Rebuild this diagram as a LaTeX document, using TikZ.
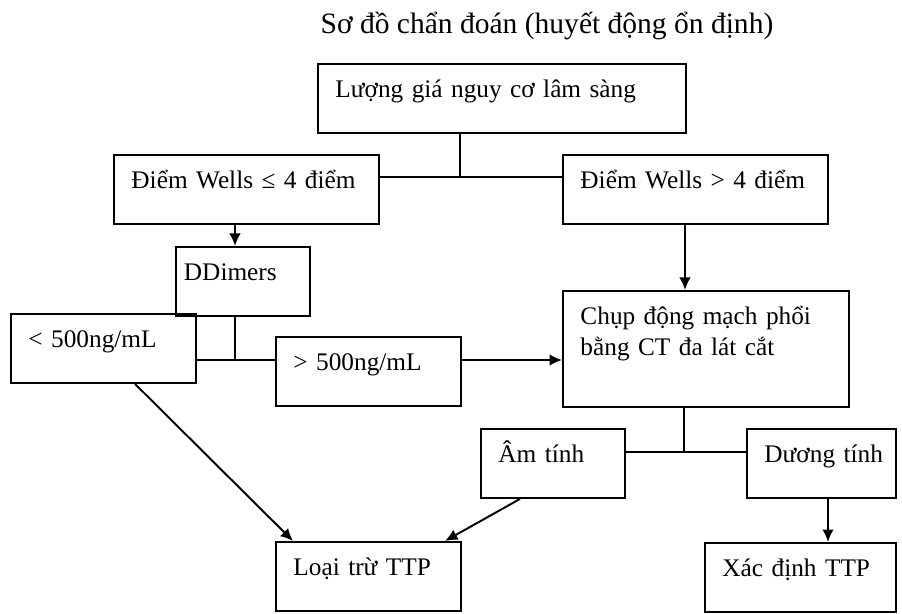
\documentclass[tikz,border=0pt]{standalone}
\usepackage{fontspec}
\setmainfont{Liberation Serif}
\usetikzlibrary{arrows.meta}
\tikzset{
  box/.style={draw, line width=1.1pt, anchor=north west, align=left,
    inner xsep=.35cm, inner ysep=0pt, text height=.68cm, text depth=.7cm,
    font=\fontsize{14.4}{17.6}\selectfont},
  link/.style={line width=1.1pt},
  tip/.style={-{Latex[length=2.5mm,width=2.3mm]}},
}
\begin{document}
\begin{tikzpicture}
  \useasboundingbox (0,0) rectangle (18.04,12.26);
  \node[anchor=base, font=\fontsize{16.8}{20}\selectfont] (title) at (10.94,11.58) {Sơ đồ chẩn đoán (huyết động ổn định)};
  % boxes, placed by their top left corner
  \node[box, text width=6.66cm] (risk) at (6.34,11.00) {Lượng~giá~nguy~cơ~lâm~sàng};
  \node[box, text width=4.60cm] (low) at (2.26,9.18) {Điểm~Wells~≤~4~điểm};
  \node[box, text width=4.60cm] (high) at (11.24,9.18) {Điểm~Wells~>~4~điểm};
  \node[box, inner xsep=.16cm, text width=2.36cm] (dimer) at (3.50,7.34) {DDimers};
  \node[box, text width=3.00cm] (neg500) at (0.20,6.00) {<~500ng/mL};
  \node[box, text width=3.00cm] (pos500) at (5.50,5.54) {>~500ng/mL};
  \node[box, text width=5.02cm, text depth=1.64cm] (ctpa) at (11.24,6.46) {Chụp~động~mạch~phổi\\bằng~CT~đa~lát~cắt};
  \node[box, text width=2.18cm] (negct) at (9.60,3.70) {Âm~tính};
  \node[box, text width=2.28cm] (posct) at (14.92,3.70) {Dương~tính};
  \node[box, text width=3.00cm] (loai) at (5.50,1.44) {Loại~trừ~TTP};
  \node[box, text width=3.12cm] (xac) at (14.08,1.42) {Xác~định~TTP};
  % branch points
  \coordinate (split1) at (9.20,8.72);
  \coordinate (split2) at (4.70,5.06);
  \coordinate (split3) at (13.68,3.22);
  % connectors
  \draw[link] (split1 |- risk.south) -- (split1);
  \draw[link] (low.east |- split1) -- (high.west |- split1);
  \draw[link,tip] (split2 |- low.south) -- (split2 |- dimer.north);
  \draw[link] (split2 |- dimer.south) -- (split2);
  \draw[link] (neg500.east |- split2) -- (pos500.west |- split2);
  \draw[link,tip] (pos500.east |- split2) -- (ctpa.west |- split2);
  \draw[link,tip] ([xshift=2.46cm]high.south west) -- ([xshift=2.46cm]ctpa.north west);
  \draw[link] (split3 |- ctpa.south) -- (split3);
  \draw[link] (negct.east |- split3) -- (posct.west |- split3);
  \draw[link,tip] ([xshift=2.5cm]neg500.south west) -- ([xshift=.36cm]loai.north west);
  \draw[link,tip] ([xshift=.8cm]negct.south west) -- ([xshift=3.4cm]loai.north west);
  \draw[link,tip] ([xshift=1.64cm]posct.south west) -- ([xshift=2.48cm]xac.north west);
\end{tikzpicture}
\end{document}
